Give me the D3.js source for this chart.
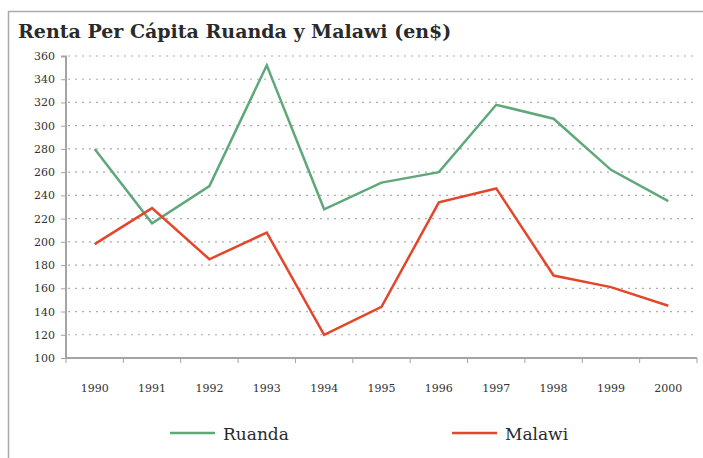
<!DOCTYPE html>
<html lang="es">
<head>
<meta charset="utf-8">
<title>Renta Per Cápita Ruanda y Malawi</title>
<script src="https://d3js.org/d3.v7.min.js"></script>
<style>
    body { margin: 0; background: #fff; }
    svg { display: block; }
    .grid line { stroke: #b0aaaa; stroke-width: 1.2px; stroke-dasharray: 2,5; }
    .line { fill: none; stroke-width: 2.5px; stroke-linejoin: miter; }
    text { font-family: "DejaVu Serif", serif; fill: #333; }
</style>
</head>
<body>
<svg width="703" height="458"></svg>
<script>
    var years = ["1990","1991","1992","1993","1994","1995","1996","1997","1998","1999","2000"];
    var ruanda = [280, 216, 248, 352, 228, 251, 260, 318, 306, 262, 235];
    var malawi = [198, 229, 185, 208, 120, 144, 234, 246, 171, 161, 145];
    var yTicks = [100,120,140,160,180,200,220,240,260,280,300,320,340,360];

    var series = [
        {name: "Ruanda", values: ruanda, color: "#5ea87a"},
        {name: "Malawi", values: malawi, color: "#e2472b"}
    ];

    var svg = d3.select("svg"),
        margin = {top: 56, right: 6, bottom: 100, left: 66},
        width = 703 - margin.left - margin.right,
        height = 458 - margin.top - margin.bottom;

    // outer frame
    svg.append("rect")
        .attr("x", 8.5).attr("y", 11.5)
        .attr("width", 720).attr("height", 470)
        .attr("fill", "none").attr("stroke", "#aaa").attr("stroke-width", 1.5);

    svg.append("text")
        .attr("x", 18).attr("y", 38)
        .style("font-size", "19px")
        .style("font-weight", "bold")
        .style("fill", "#2a2a2a")
        .text("Renta Per Cápita Ruanda y Malawi (en$)");

    var g = svg.append("g").attr("transform", "translate(" + margin.left + "," + margin.top + ")");

    var x = d3.scaleBand().domain(years).range([0, width]);
    var y = d3.scaleLinear().domain([100, 360]).range([height, 0]);

    // grid
    g.append("g").attr("class", "grid")
        .selectAll("line")
        .data(yTicks.slice(1))
        .enter().append("line")
        .attr("x1", 2).attr("x2", width)
        .attr("y1", function(d) { return y(d); })
        .attr("y2", function(d) { return y(d); });

    var yAxis = g.append("g")
        .call(d3.axisLeft(y).tickValues(yTicks).tickSize(5).tickPadding(6));
    yAxis.select(".domain").attr("stroke", "#a8a2a2").attr("stroke-width", 2).attr("d", "M-5,0.5H0V" + height);
    yAxis.selectAll(".tick line").attr("stroke", "#a8a2a2");
    yAxis.selectAll("text").style("font-size", "11px").style("fill", "#333");

    var xAxis = g.append("g")
        .attr("transform", "translate(0," + height + ")")
        .call(d3.axisBottom(x).tickSize(0).tickPadding(26));
    xAxis.select(".domain").attr("stroke", "#a8a2a2").attr("stroke-width", 2).attr("d", "M0,0H" + width);
    xAxis.selectAll("text").style("font-size", "11px").style("fill", "#333");
    // tick marks at band boundaries
    xAxis.selectAll(".bound")
        .data(years.concat(["end"]))
        .enter().append("line")
        .attr("class", "bound")
        .attr("x1", function(d, i) { return i * x.step(); })
        .attr("x2", function(d, i) { return i * x.step(); })
        .attr("y1", 0).attr("y2", 5)
        .attr("stroke", "#a8a2a2");

    var line = d3.line()
        .x(function(d, i) { return x(years[i]) + x.bandwidth() / 2; })
        .y(function(d) { return y(d); });

    g.selectAll(".line")
        .data(series)
        .enter().append("path")
        .attr("class", "line")
        .attr("d", function(d) { return line(d.values); })
        .attr("stroke", function(d) { return d.color; });

    // legend
    var legendX = [170, 452];
    var legend = svg.selectAll(".legend")
        .data(series)
        .enter().append("g")
        .attr("class", "legend")
        .attr("transform", function(d, i) { return "translate(" + legendX[i] + ",433)"; });
    legend.append("line")
        .attr("x1", 0).attr("x2", 45)
        .attr("stroke", function(d) { return d.color; })
        .attr("stroke-width", 2.5);
    legend.append("text")
        .attr("x", 53).attr("y", 7)
        .style("font-size", "17px")
        .style("fill", "#2a2a2a")
        .text(function(d) { return d.name; });
</script>
</body>
</html>
